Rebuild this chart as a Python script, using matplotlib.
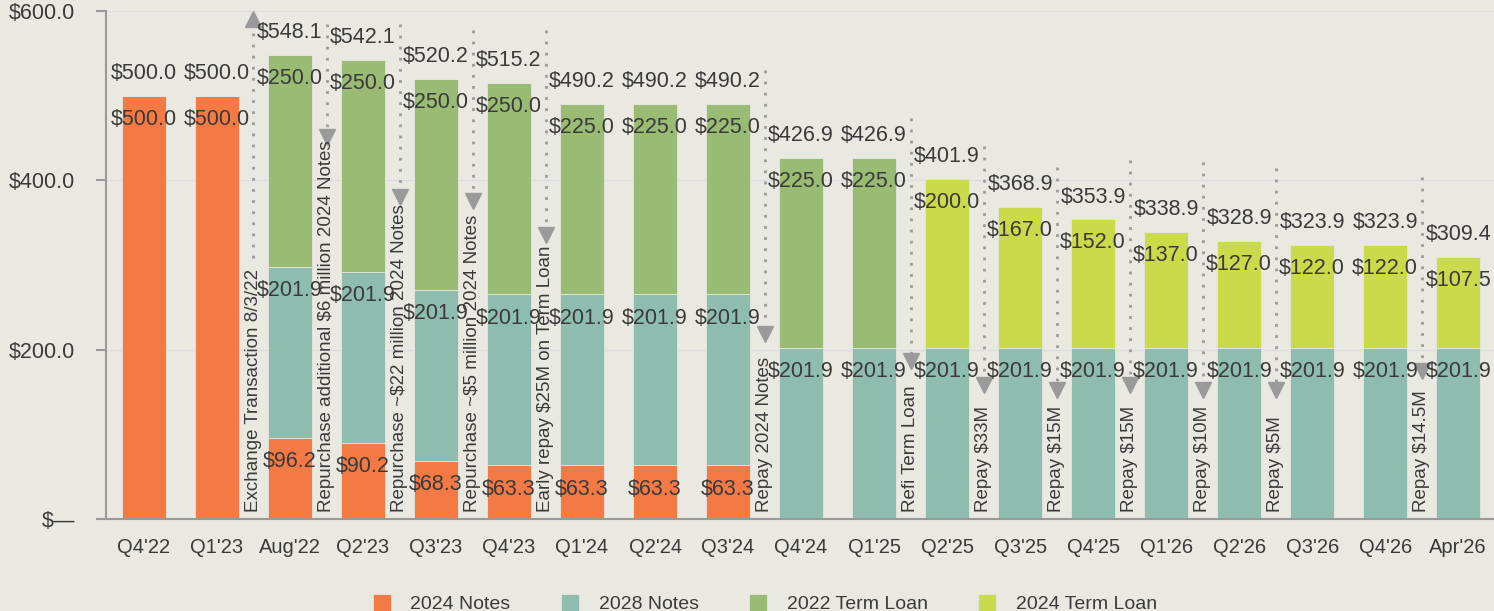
import matplotlib
matplotlib.use("Agg")
import matplotlib.pyplot as plt

plt.rcParams['font.family'] = ['Liberation Sans', 'DejaVu Sans']

quarters = ["Q4'22", "Q1'23", "Aug'22", "Q2'23", "Q3'23", "Q4'23", "Q1'24", "Q2'24", "Q3'24",
            "Q4'24", "Q1'25", "Q2'25", "Q3'25", "Q4'25", "Q1'26", "Q2'26", "Q3'26", "Q4'26", "Apr'26"]
notes_2024 = [500.0, 500.0, 96.2, 90.2, 68.3, 63.3, 63.3, 63.3, 63.3, 0, 0, 0, 0, 0, 0, 0, 0, 0, 0]
notes_2028 = [0, 0] + [201.9] * 17
term_2022 = [0, 0, 250.0, 250.0, 250.0, 250.0, 225.0, 225.0, 225.0, 225.0, 225.0, 0, 0, 0, 0, 0, 0, 0, 0]
term_2024 = [0] * 11 + [200.0, 167.0, 152.0, 137.0, 127.0, 122.0, 122.0, 107.5]

# events between bars: (position, arrow tail, arrow tip, text)
events = [
    (1.5, 308, 599, "Exchange Transaction 8/3/22"),
    (2.5, 585, 442, "Repurchase additional $6 million 2024 Notes"),
    (3.5, 585, 371, "Repurchase ~$22 million 2024 Notes"),
    (4.5, 578, 367, "Repurchase ~$5 million 2024 Notes"),
    (5.5, 578, 326, "Early repay $25M on Term Loan"),
    (8.5, 530, 209, "Repay 2024 Notes"),
    (10.5, 474, 178, "Refi Term Loan"),
    (11.5, 440, 149, "Repay $33M"),
    (12.5, 416, 143, "Repay $15M"),
    (13.5, 424, 149, "Repay $15M"),
    (14.5, 422, 143, "Repay $10M"),
    (15.5, 415, 143, "Repay $5M"),
    (17.5, 404, 166, "Repay $14.5M"),
]

bg = '#EAE9E1'
colors = ['#F37A44', '#8EBDB0', '#9ABB74', '#C9DB4B']
names = ['2024 Notes', '2028 Notes', '2022 Term Loan', '2024 Term Loan']
series = [notes_2024, notes_2028, term_2022, term_2024]
txt = '#3a3a3a'
fs = 15.5

fig = plt.figure(figsize=(14.94, 6.11), dpi=100, facecolor=bg)
ax = fig.add_axes([106/1494, 92/611, 1388/1494, 508/611])
ax.set_facecolor(bg)

x = list(range(len(quarters)))
bottom = [0.0] * len(x)
for vals, c, n in zip(series, colors, names):
    ax.bar(x, vals, 0.6, bottom=bottom, color=c, label=n, edgecolor='#e4e6df', linewidth=0.6, zorder=2)
    for i, v in enumerate(vals):
        if v > 0:
            ax.annotate(f"${v:.1f}", (i, bottom[i] + v), xytext=(0, -17), textcoords='offset points',
                        ha='center', va='center', fontsize=fs, color=txt, zorder=4)
    bottom = [b + v for b, v in zip(bottom, vals)]

for i, t in enumerate(bottom):
    ax.annotate(f"${t:.1f}", (i, t), xytext=(0, 16), textcoords='offset points',
                ha='center', va='center', fontsize=fs, color=txt, zorder=4)

for pos, tail, tip, label in events:
    up = tip > tail
    head = tip - 9 if up else tip + 9
    ax.plot([pos, pos], [tail, head], linestyle=(0, (1, 3)), color='#9a9a9a', linewidth=2, zorder=3)
    ax.plot(pos, head, marker='^' if up else 'v', markersize=12, color='#9a9a9a', zorder=3)
    ax.text(pos, 8, label, rotation=90, ha='center', va='bottom', fontsize=13.5, color=txt, zorder=4)

ax.set_xlim(-0.52, 18.49)
ax.set_ylim(0, 600)
ax.set_xticks(x)
ax.set_xticklabels(quarters)
ax.set_yticks([0, 200, 400, 600])
ax.set_yticklabels(['$\u2014', '$200.0', '$400.0', '$600.0'])
ax.tick_params(axis='x', length=0, pad=14, labelsize=14.5, labelcolor=txt)
ax.tick_params(axis='y', length=7, width=1.5, color='#999999', pad=15, labelsize=fs, labelcolor=txt)
ax.grid(axis='y', color='#DCDCDE', linewidth=1, zorder=0)
for s in ['top', 'right']:
    ax.spines[s].set_visible(False)
for s in ['left', 'bottom']:
    ax.spines[s].set_color('#999999')
    ax.spines[s].set_linewidth(1.5)

fig.legend(loc='center', bbox_to_anchor=(0.512, 0.012), ncol=4, frameon=False, fontsize=14,
           handlelength=0.93, handleheight=0.93, handletextpad=1.0, columnspacing=2.6,
           labelcolor=txt)

fig.savefig('out.png', dpi=100, facecolor=bg)
